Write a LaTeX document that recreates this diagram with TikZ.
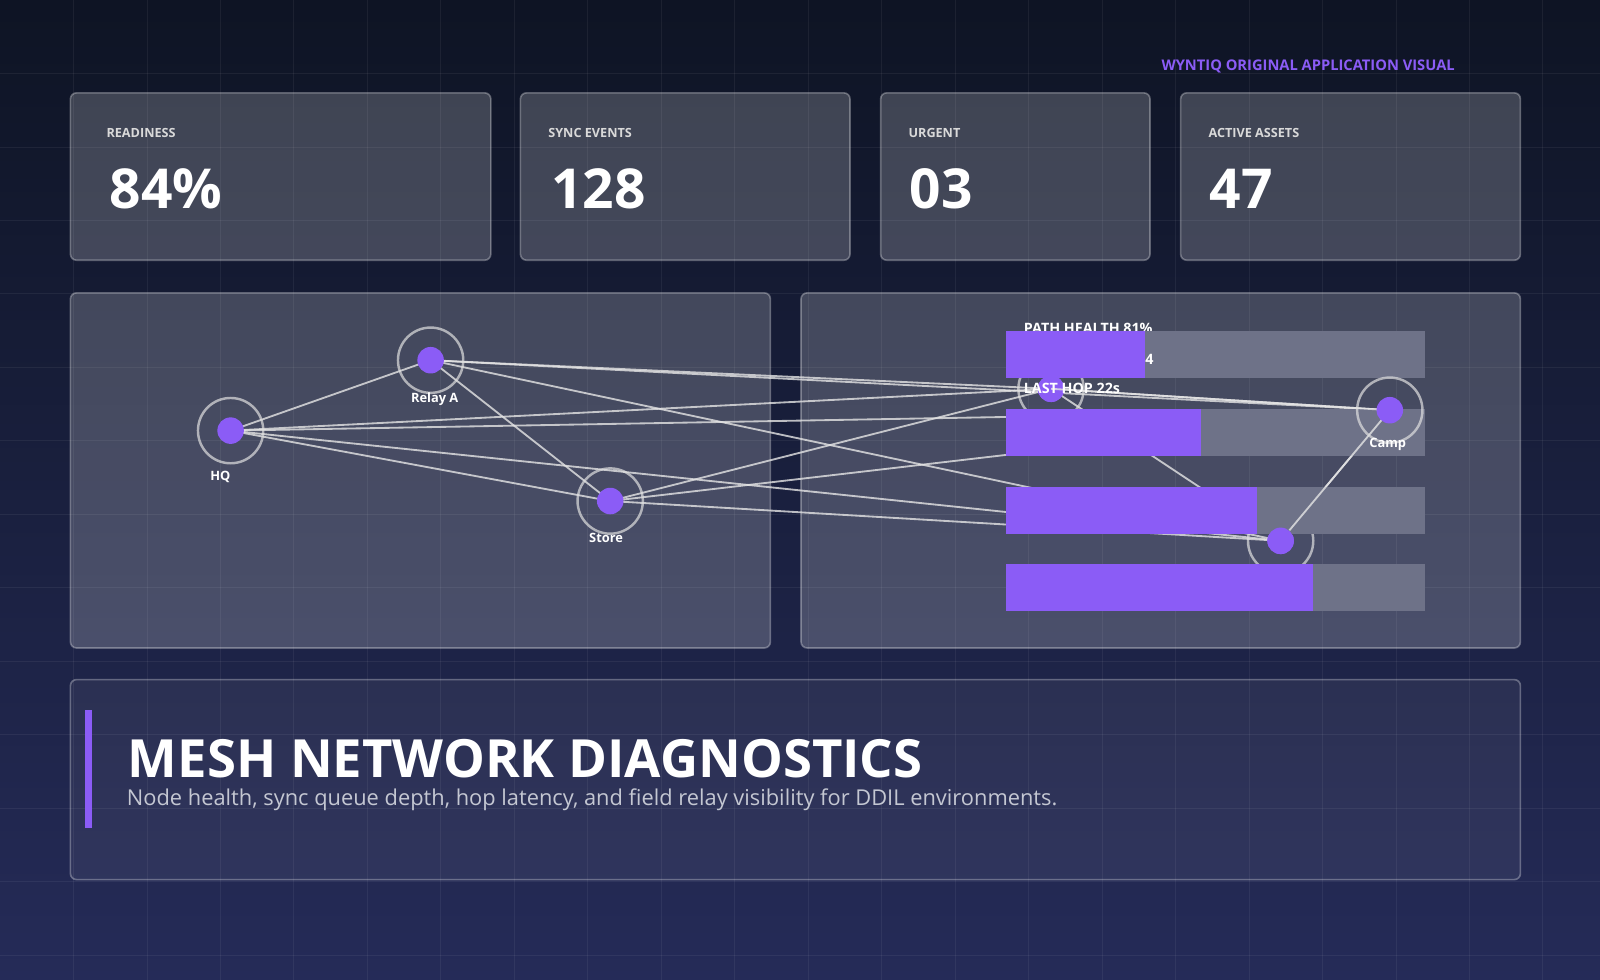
\documentclass[tikz,border=0pt]{standalone}
\usepackage{fontspec}
\setmainfont{Open Sans}
\usetikzlibrary{positioning, calc}
\definecolor{bgA}{HTML}{0E1424}
\definecolor{bgB}{HTML}{252B58}
\definecolor{violet}{HTML}{8B5CF6}
\definecolor{track}{HTML}{6E7288}
\definecolor{subgray}{HTML}{C4C7D2}
\tikzset{
  card/.style = {rounded corners=3pt, fill=white, fill opacity=0.2, draw=white, draw opacity=0.3, line width=0.8pt},
  caption/.style = {anchor=base west, inner sep=0pt, text=white!85!black, font=\fontsize{6.2}{8}\selectfont\bfseries},
  bignum/.style = {anchor=base west, inner sep=0pt, text=white, font=\fontsize{27}{30}\selectfont\bfseries},
  ring/.style = {circle, draw=white!75!gray, draw opacity=0.7, line width=1.2pt, minimum size=32pt, inner sep=0pt},
  dot/.style = {circle, fill=violet, minimum size=13pt, inner sep=0pt},
  tag/.style = {text=white, inner sep=0pt, font=\fontsize{6.3}{8}\selectfont\bfseries},
  link/.style = {draw=white!80!gray, draw opacity=0.8, line width=0.9pt},
  bartrack/.style = {fill=track},
  barfill/.style = {fill=violet},
}
\begin{document}
\begin{tikzpicture}[x=0.5pt, y=-0.5pt]
	% background and grid
	\useasboundingbox (0,0) rectangle (1568,960);
	\shade[left color=bgA, right color=bgB, shading angle=0] (0,0) rectangle (1568,960);
	\shade[top color=bgA, bottom color=bgB, opacity=0.15] (0,0) rectangle (1568,960);
	\foreach \g in {72,144,...,1540} \draw[white, opacity=0.06] (\g,0) -- (\g,960);
	\foreach \g in {72,144,...,940} \draw[white, opacity=0.06] (0,\g) -- (1568,\g);
	\node[anchor=base east, inner sep=0pt, text=violet, font=\fontsize{7.2}{9}\selectfont\bfseries] (Brand) at (1426,69) {WYNTIQ ORIGINAL APPLICATION VISUAL};
	% metric cards
	\draw[card] (69,91) rectangle (481,255);
	\draw[card] (510,91) rectangle (833,255);
	\draw[card] (863,91) rectangle (1127,255);
	\draw[card] (1157,91) rectangle (1490,255);
	\node[caption] (ReadyCap) at (104,135) {READINESS};
	\node[bignum] (ReadyNum) at (107,204) {84\%};
	\node[caption] (SyncCap) at (537,135) {SYNC EVENTS};
	\node[bignum] (SyncNum) at (540,204) {128};
	\node[caption] (UrgentCap) at (890,135) {URGENT};
	\node[bignum] (UrgentNum) at (891,204) {03};
	\node[caption] (AssetCap) at (1184,135) {ACTIVE ASSETS};
	\node[bignum] (AssetNum) at (1185,204) {47};
	% panels
	\draw[card] (69,287) rectangle (755,635);
	\draw[card] (785,287) rectangle (1490,635);
	% mesh links
	\coordinate (HQ) at (226,422);
	\coordinate (RelayA) at (422,353);
	\coordinate (Store) at (598,491);
	\coordinate (Hop) at (1030,381);
	\coordinate (Camp) at (1362,402);
	\coordinate (Edge) at (1255,530);
	\foreach \a/\b in {HQ/RelayA, HQ/Store, HQ/Hop, HQ/Camp, HQ/Edge, RelayA/Store, RelayA/Hop, RelayA/Camp, RelayA/Edge, Store/Hop, Store/Camp, Store/Edge, Hop/Camp, Hop/Edge, Camp/Edge}
		\draw[link] (\a) -- (\b);
	\foreach \n in {HQ, RelayA, Store, Hop, Edge} {
		\node[ring] (\n Ring) at (\n) {};
		\node[dot] (\n Dot) at (\n) {};
	}
	\node[tag, below=3pt of HQRing.south, xshift=-5pt] (HQLabel) {HQ};
	\node[tag, below=-1pt of RelayARing.south, xshift=2pt] (RelayLabel) {Relay A};
	\node[tag, below=-1pt of StoreRing.south, xshift=-2pt] (StoreLabel) {Store};
	% health bars
	\node[anchor=base west, tag, font=\fontsize{7}{8}\selectfont\bfseries] (PathTxt) at (1003,327) {PATH HEALTH 81\%};
	\foreach \y/\w in {324/1122, 401/1177, 477/1232, 553/1287} {
		\fill[bartrack] (986,\y) rectangle (1396,\y+46);
		\fill[barfill] (986,\y) rectangle (\w,\y+46);
	}
	\node[anchor=base west, tag, font=\fontsize{7}{8}\selectfont\bfseries] (QueueTxt) at (1122,357) {4};
	\node[dot] (HopTop) at (Hop) {};
	\node[dot] (EdgeTop) at (Edge) {};
	\draw[link] (Hop) -- (Camp);
	\draw[link] (EdgeTop) -- (Camp);
	\node[ring] (CampRing) at (Camp) {};
	\node[dot] (CampDot) at (Camp) {};
	\node[tag, below=-3pt of CampRing.south, xshift=-1pt] (CampLabel) {Camp};
	\node[anchor=base west, tag, font=\fontsize{7}{8}\selectfont\bfseries] (HopTxt) at (1003,386) {LAST HOP 22s};
	% title panel
	\draw[card, fill opacity=0.06] (69,666) rectangle (1490,862);
	\fill[violet] (83,696) rectangle (90,811);
	\node[anchor=base west, inner sep=0pt, text=white, font=\fontsize{25.8}{30}\selectfont\bfseries] (Title) at (125,762) {MESH NETWORK DIAGNOSTICS};
	\node[anchor=base west, inner sep=0pt, text=subgray, font=\fontsize{10.7}{12}\selectfont] (Subtitle) at (124,789) {Node health, sync queue depth, hop latency, and field relay visibility for DDIL environments.};
\end{tikzpicture}
\end{document}
